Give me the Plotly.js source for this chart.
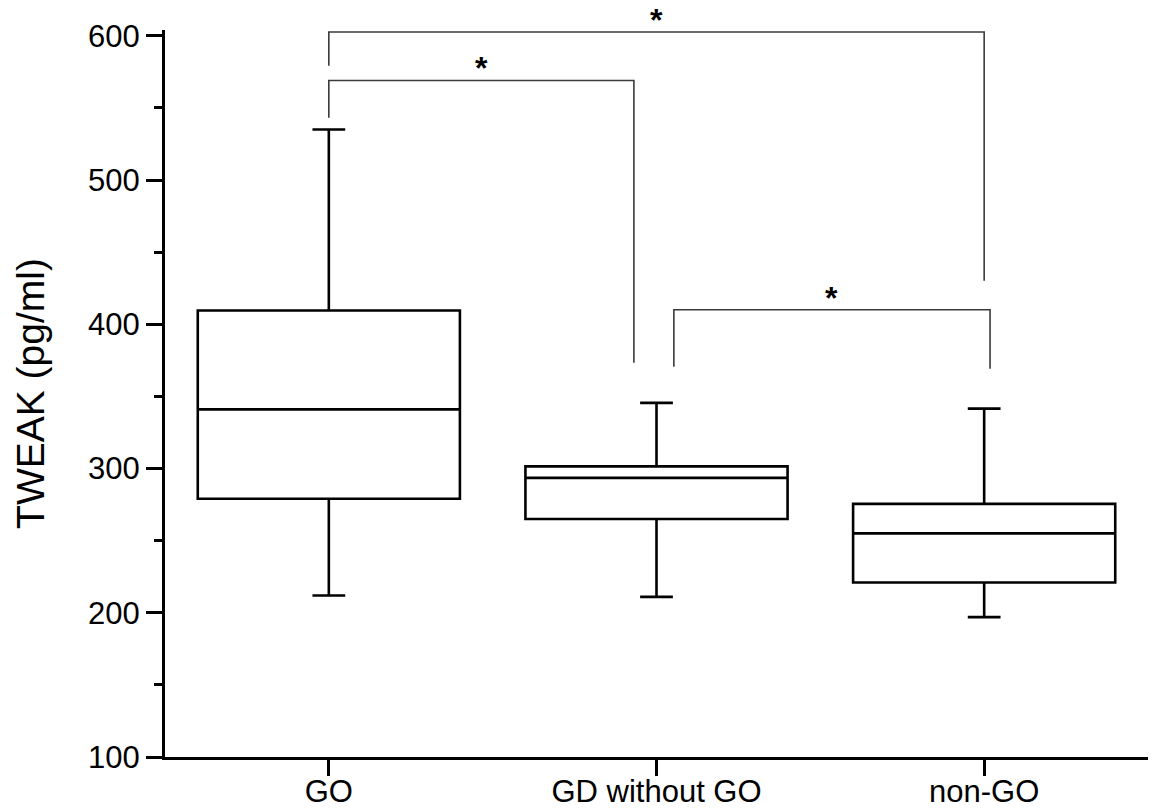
<!DOCTYPE html>
<html><head><meta charset="utf-8">
<script src="https://cdn.plot.ly/plotly-3.0.1.min.js"></script>
<style>html,body{margin:0;padding:0;background:#fff}#chart{width:1152px;height:811px}</style>
</head><body><div id="chart"></div>
<script>
const categories = ['GO', 'GD without GO', 'non-GO'];
const positions = [0, 1, 2];
const lowerWhisker = [212, 211, 197];
const q1 = [279, 265, 221];
const medians = [341, 293.5, 255];
const q3 = [409.5, 301.5, 275.5];
const upperWhisker = [535, 345.5, 341.5];

const bracketStart = [0, 0, 1.053];
const bracketEnd = [2, 0.931, 2.018];
const bracketTop = [602.6, 569, 410.1];
const bracketStartFoot = [579.2, 543.2, 370.6];
const bracketEndFoot = [430.2, 373.3, 369.2];
const bracketLabels = ['*', '*', '*'];

const FONT = 'Liberation Sans, Arial, sans-serif';

const traces = [{
  type: 'box',
  x: positions,
  q1: q1,
  median: medians,
  q3: q3,
  lowerfence: lowerWhisker,
  upperfence: upperWhisker,
  width: 0.8,
  whiskerwidth: 0.125,
  fillcolor: 'rgba(255,255,255,0)',
  line: {color: '#000', width: 2.6},
  boxpoints: false,
  hoverinfo: 'skip',
  showlegend: false
}];

const annotations = [];
for (let i = 0; i < bracketTop.length; i++) {
  traces.push({
    type: 'scatter', mode: 'lines',
    x: [bracketStart[i], bracketStart[i], bracketEnd[i], bracketEnd[i]],
    y: [bracketStartFoot[i], bracketTop[i], bracketTop[i], bracketEndFoot[i]],
    line: {color: '#3a3a3a', width: 1.6},
    hoverinfo: 'skip', showlegend: false
  });
  annotations.push({
    x: (bracketStart[i] + bracketEnd[i]) / 2, y: bracketTop[i],
    xref: 'x', yref: 'y', text: '<b>' + bracketLabels[i] + '</b>', showarrow: false,
    yanchor: 'middle', yshift: 12,
    font: {family: FONT, size: 32, color: '#000'}
  });
}

const layout = {
  width: 1152, height: 811,
  margin: {l: 165, r: 4, t: 30, b: 54},
  paper_bgcolor: '#fff', plot_bgcolor: '#fff',
  font: {family: FONT, color: '#000'},
  showlegend: false,
  xaxis: {
    range: [-0.5, 2.5], tickmode: 'array', tickvals: positions, ticktext: categories,
    showline: true, linewidth: 3, linecolor: '#000',
    ticks: 'outside', ticklen: 16, tickwidth: 3, tickcolor: '#000',
    ticklabelstandoff: -11,
    tickfont: {family: FONT, size: 31, color: '#000'},
    showgrid: false, zeroline: false, fixedrange: true
  },
  yaxis: {
    range: [100, 604], tick0: 100, dtick: 100,
    showline: true, linewidth: 3, linecolor: '#000',
    ticks: 'outside', ticklen: 16, tickwidth: 3, tickcolor: '#000',
    minor: {dtick: 50, tick0: 100, ticks: 'outside', ticklen: 8, tickwidth: 3, tickcolor: '#000', showgrid: false},
    tickfont: {family: FONT, size: 31, color: '#000'},
    title: {text: 'TWEAK (pg/ml)', font: {family: FONT, size: 39, color: '#000'}, standoff: 32},
    showgrid: false, zeroline: false, fixedrange: true
  },
  annotations: annotations
};

Plotly.newPlot('chart', traces, layout, {displayModeBar: false, staticPlot: true});
</script>
</body></html>
